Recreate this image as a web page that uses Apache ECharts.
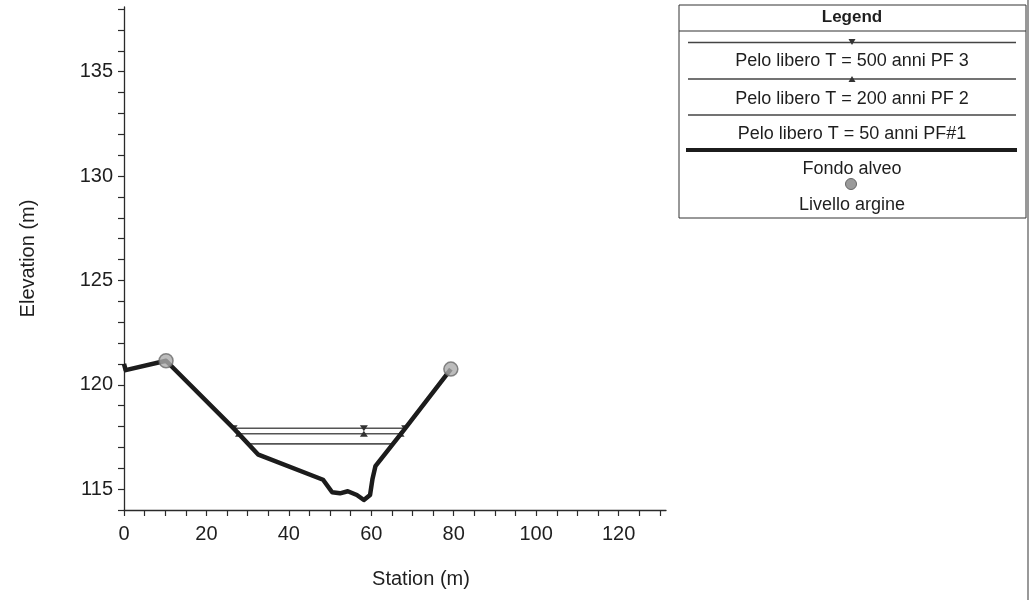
<!DOCTYPE html>
<html><head><meta charset="utf-8">
<script src="https://cdn.jsdelivr.net/npm/echarts@6/dist/echarts.min.js"></script>
<style>html,body{margin:0;padding:0;background:#fff}#c{width:1032px;height:600px}</style>
</head><body><div id="c"></div>
<script>
// ---- data ----
const groundStation = [0, 0.4, 10.2, 26.9, 32.6, 48.3, 50.5, 52.4, 54.3, 56.5, 58.2, 59.7, 60.3, 61.0, 67.8, 79.3];
const groundElev    = [121.0, 120.7, 121.15, 117.85, 116.65, 115.45, 114.85, 114.8, 114.9, 114.72, 114.48, 114.72, 115.5, 116.1, 117.8, 120.75];
const leveeStation  = [10.2, 79.3];
const leveeElev     = [121.15, 120.75];
const ws500Station  = [26.6, 58.2, 68.2];
const ws500Elev     = 117.92;
const ws200Station  = [27.9, 58.2, 67.1];
const ws200Elev     = 117.65;
const ws50Station   = [30.4, 65.1];
const ws50Elev      = 117.17;
const xTickLabels   = [0, 20, 40, 60, 80, 100, 120];
const xMinorTicks   = [0, 5, 10, 15, 20, 25, 30, 35, 40, 45, 50, 55, 60, 65, 70, 75, 80, 85, 90, 95, 100, 105, 110, 115, 120, 125, 130];
const yTickLabels   = [115, 120, 125, 130, 135];
const yMinorTicks   = [114, 115, 116, 117, 118, 119, 120, 121, 122, 123, 124, 125, 126, 127, 128, 129, 130, 131, 132, 133, 134, 135, 136, 137, 138];
const legendTitle   = 'Legend';
const legendLabels  = ['Pelo libero T = 500 anni PF 3', 'Pelo libero T = 200 anni PF 2', 'Pelo libero T = 50 anni PF#1', 'Fondo alveo', 'Livello argine'];

const FONT = "'Liberation Sans', Arial, sans-serif";
const zip = (xs, ys) => xs.map((x, i) => [x, Array.isArray(ys) ? ys[i] : ys]);

const chart = echarts.init(document.getElementById('c'), null, {renderer: 'canvas'});
const axisCol = '#2a2a2a';
const lt = (y, text) => ({type: 'text', x: 852, y: y, style: {text: text, font: '18px ' + FONT, fill: '#1e1e1e', align: 'center', verticalAlign: 'middle'}});
chart.setOption({
  animation: false,
  backgroundColor: '#fff',
  grid: {left: 124, top: 7, width: 542, height: 503, containLabel: false},
  xAxis: {
    type: 'value', min: 0, max: 131.5,
    axisLine: {show: true, onZero: false, lineStyle: {color: axisCol, width: 1.3}},
    axisTick: {show: true, length: 6, customValues: xMinorTicks, lineStyle: {color: axisCol, width: 1.2}},
    axisLabel: {customValues: xTickLabels, fontSize: 20, color: '#1e1e1e', fontFamily: FONT, margin: 14},
    splitLine: {show: false},
    name: 'Station (m)', nameLocation: 'middle', nameGap: 59,
    nameTextStyle: {fontSize: 20, color: '#1e1e1e', fontFamily: FONT, padding: [0, 0, 0, 52]}
  },
  yAxis: {
    type: 'value', min: 114, max: 138.1,
    axisLine: {show: true, onZero: false, lineStyle: {color: axisCol, width: 1.3}},
    axisTick: {show: true, length: 6, customValues: yMinorTicks, lineStyle: {color: axisCol, width: 1.2}},
    axisLabel: {customValues: yTickLabels, fontSize: 20, color: '#1e1e1e', fontFamily: FONT, margin: 11},
    splitLine: {show: false},
    name: 'Elevation (m)', nameLocation: 'middle', nameGap: 86,
    nameTextStyle: {fontSize: 20, color: '#1e1e1e', fontFamily: FONT}
  },
  series: [
    {type: 'line', name: 'PF 3', data: zip(ws500Station, ws500Elev), symbol: 'triangle', symbolRotate: 180,
     symbolSize: [8, 6], showSymbol: true, itemStyle: {color: '#333'}, lineStyle: {color: '#555', width: 1.6}, z: 2},
    {type: 'line', name: 'PF 2', data: zip(ws200Station, ws200Elev), symbol: 'triangle',
     symbolSize: [8, 6], showSymbol: true, itemStyle: {color: '#333'}, lineStyle: {color: '#555', width: 1.6}, z: 2},
    {type: 'line', name: 'PF#1', data: zip(ws50Station, ws50Elev), showSymbol: false,
     lineStyle: {color: '#555', width: 1.6}, z: 2},
    {type: 'line', name: 'Fondo alveo', data: zip(groundStation, groundElev), showSymbol: false,
     lineStyle: {color: '#1c1c1c', width: 4.5, join: 'round'}, z: 3},
    {type: 'scatter', name: 'Livello argine', data: zip(leveeStation, leveeElev), symbol: 'circle', symbolSize: 14,
     itemStyle: {color: '#ababab', borderColor: '#6a6a6a', borderWidth: 1.5}, z: 4}
  ],
  graphic: [
    {type: 'line', shape: {x1: 1028, y1: 0, x2: 1028, y2: 600}, style: {stroke: '#777', lineWidth: 1.5}},
    {type: 'rect', shape: {x: 679, y: 5, width: 347, height: 213}, style: {fill: 'none', stroke: '#333', lineWidth: 1}},
    {type: 'text', x: 852, y: 17, style: {text: legendTitle, font: 'bold 17px ' + FONT, fill: '#1e1e1e', align: 'center', verticalAlign: 'middle'}},
    {type: 'line', shape: {x1: 679, y1: 31, x2: 1026, y2: 31}, style: {stroke: '#333', lineWidth: 1.2}},
    {type: 'line', shape: {x1: 688, y1: 42.5, x2: 1016, y2: 42.5}, style: {stroke: '#444', lineWidth: 1.3}},
    {type: 'polygon', shape: {points: [[848.5, 39], [855.5, 39], [852, 45]]}, style: {fill: '#333'}},
    lt(61, legendLabels[0]),
    {type: 'line', shape: {x1: 688, y1: 79, x2: 1016, y2: 79}, style: {stroke: '#444', lineWidth: 1.3}},
    {type: 'polygon', shape: {points: [[848.5, 82], [855.5, 82], [852, 76]]}, style: {fill: '#333'}},
    lt(99, legendLabels[1]),
    {type: 'line', shape: {x1: 688, y1: 115, x2: 1016, y2: 115}, style: {stroke: '#444', lineWidth: 1.3}},
    lt(134, legendLabels[2]),
    {type: 'line', shape: {x1: 686, y1: 150, x2: 1017, y2: 150}, style: {stroke: '#1c1c1c', lineWidth: 4}},
    lt(169, legendLabels[3]),
    {type: 'circle', shape: {cx: 851, cy: 184, r: 5.5}, style: {fill: '#9a9a9a', stroke: '#666', lineWidth: 1}},
    lt(205, legendLabels[4])
  ]
});
</script></body></html>
